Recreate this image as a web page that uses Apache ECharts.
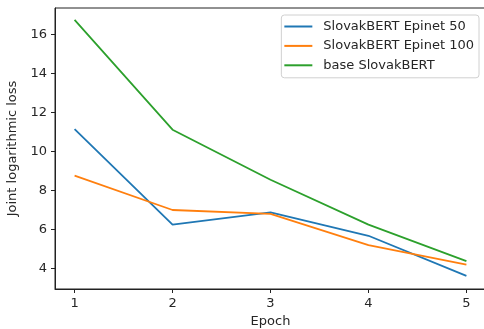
<!DOCTYPE html>
<html>
<head>
<meta charset="utf-8">
<script src="https://cdn.jsdelivr.net/npm/echarts@6/dist/echarts.min.js"></script>
<style>
  html, body { margin: 0; padding: 0; background: #fff; }
  #chart { width: 484px; height: 329px; }
</style>
</head>
<body>
<div id="chart"></div>
<script>
// values
const epochs = [1, 2, 3, 4, 5];
const epinet50 = [11.15, 6.25, 6.88, 5.68, 3.62];
const epinet100 = [8.76, 7.0, 6.8, 5.2, 4.2];
const baseBert = [16.75, 11.12, 8.55, 6.25, 4.38];
const yTicks = [4, 6, 8, 10, 12, 14, 16];

const chart = echarts.init(document.getElementById("chart"));

const font = "DejaVu Sans";
const textColor = "#262626";

const makeLine = (name, values, color) => ({
  name: name,
  type: "line",
  data: values.map((v, i) => [epochs[i], v]),
  symbol: "none",
  lineStyle: { color: color, width: 1.8 },
  itemStyle: { color: color },
});

const option = {
  animation: false,
  textStyle: { fontFamily: font },
  grid: {
    left: 55,
    right: -2,
    top: 8,
    bottom: 40,
    outerBoundsMode: "none",
    containLabel: false,
    show: true,
    borderColor: "#222",
    borderWidth: 1,
  },
  legend: {
    orient: "vertical",
    right: 5,
    top: 15,
    padding: [4, 5, 5, 3],
    itemGap: 4.4,
    itemWidth: 28,
    itemHeight: 2,
    icon: "rect",
    borderColor: "#d0d0d0",
    borderWidth: 1,
    borderRadius: 3,
    textStyle: {
      fontFamily: font,
      fontSize: 13,
      lineHeight: 15,
      color: textColor,
      padding: [0, 0, 0, 6],
    },
    data: ["SlovakBERT Epinet 50", "SlovakBERT Epinet 100", "base SlovakBERT"],
  },
  xAxis: {
    type: "value",
    min: 0.8,
    max: 5.2,
    name: "Epoch",
    nameLocation: "middle",
    nameGap: 26,
    nameTextStyle: { fontFamily: font, fontSize: 13, color: textColor },
    axisLine: { lineStyle: { color: "#222", width: 1 } },
    axisTick: { show: true, length: 4, customValues: epochs, lineStyle: { color: "#222" } },
    axisLabel: { customValues: epochs, margin: 8, fontFamily: font, fontSize: 13, color: textColor },
    splitLine: { show: false },
  },
  yAxis: {
    type: "value",
    min: 2.95,
    max: 17.36,
    name: "Joint logarithmic loss",
    nameLocation: "middle",
    nameGap: 29,
    nameTextStyle: { fontFamily: font, fontSize: 13, color: textColor },
    axisLine: { show: true, lineStyle: { color: "#222", width: 1 } },
    axisTick: { show: true, length: 4, customValues: yTicks, lineStyle: { color: "#222" } },
    axisLabel: { customValues: yTicks, margin: 8, fontFamily: font, fontSize: 13, color: textColor },
    splitLine: { show: false },
  },
  series: [
    makeLine("SlovakBERT Epinet 50", epinet50, "#1f77b4"),
    makeLine("SlovakBERT Epinet 100", epinet100, "#ff7f0e"),
    makeLine("base SlovakBERT", baseBert, "#2ca02c"),
  ],
};

chart.setOption(option);
</script>
</body>
</html>
